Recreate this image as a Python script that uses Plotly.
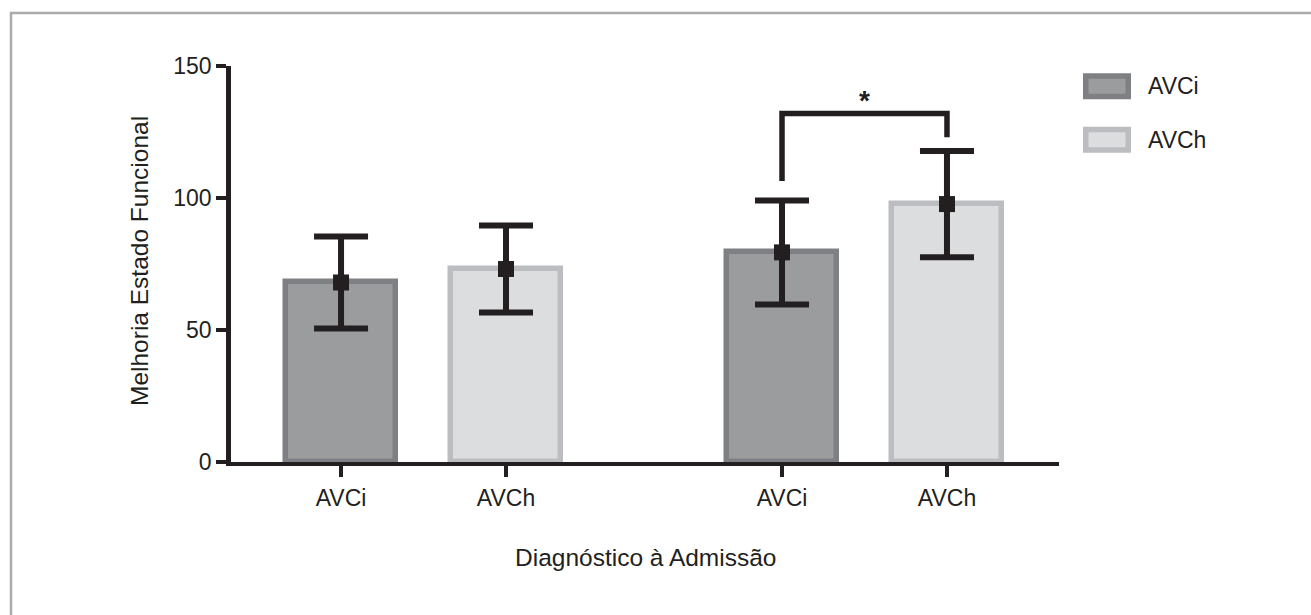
import plotly.graph_objects as go

# ---- data ----
series_names = ["AVCi", "AVCh"]
tick_labels = ["AVCi", "AVCh", "AVCi", "AVCh"]
x_positions = [1.0, 2.0, 3.673, 4.673]
means = [68.0, 73.1, 79.4, 97.7]
errors = [17.4, 16.5, 19.7, 20.1]
bracket_y = [106.4, 132.0, 132.0, 123.0]
star_text = "*"
star_y = 136.8
y_ticks = [0, 50, 100, 150]

# ---- style ----
INK = "#231f20"
FONT = "Liberation Sans, Arial, Helvetica, sans-serif"
fills = {"AVCi": "#9b9c9e", "AVCh": "#dcdddf"}
edges = {"AVCi": "#7f8083", "AVCh": "#bcbdc0"}

W, H = 1311, 615
L, R, T, B = 231, 1059, 66, 462


def px_x(px):
    return (px - L) / (R - L)


def px_y(py):
    return (B - py) / (B - T)


fig = go.Figure()

for k, name in enumerate(series_names):
    xs = [x_positions[i] for i in range(len(tick_labels)) if tick_labels[i] == name]
    ys = [means[i] for i in range(len(tick_labels)) if tick_labels[i] == name]
    fig.add_trace(go.Bar(
        x=xs, y=ys, width=0.667, name=name,
        marker=dict(color=fills[name], line=dict(color=edges[name], width=5.5)),
        showlegend=False, hoverinfo="skip",
    ))

fig.add_trace(go.Scatter(
    x=x_positions, y=means, mode="markers",
    marker=dict(symbol="square", size=16, color=INK),
    error_y=dict(type="data", array=errors, visible=True, color=INK,
                 thickness=6, width=27),
    showlegend=False, hoverinfo="skip",
))

# significance bracket
fig.add_trace(go.Scatter(
    x=[x_positions[2], x_positions[2], x_positions[3], x_positions[3]],
    y=bracket_y, mode="lines",
    line=dict(color=INK, width=5.5, shape="linear"),
    showlegend=False, hoverinfo="skip",
))
fig.add_annotation(
    x=(x_positions[2] + x_positions[3]) / 2, y=star_y, xref="x", yref="y",
    text="<b>" + star_text + "</b>", showarrow=False,
    font=dict(family=FONT, size=28, color=INK),
    xanchor="center", yanchor="middle",
)

shapes = []
annotations = []
# legend (custom, large swatches)
leg_rows = [(76.0, 96.6), (129.4, 150.0)]
for name, (y0, y1) in zip(series_names, leg_rows):
    shapes.append(dict(type="rect", xref="paper", yref="paper",
                       x0=px_x(1085.75), x1=px_x(1128.25), y0=px_y(y1), y1=px_y(y0),
                       fillcolor=fills[name], line=dict(color=edges[name], width=5.5)))
    annotations.append(dict(xref="paper", yref="paper", x=px_x(1146), y=px_y((y0 + y1) / 2),
                            text=name, showarrow=False, xanchor="left", yanchor="middle",
                            font=dict(family=FONT, size=23, color=INK)))

# figure frame (left and top visible)
shapes.append(dict(type="rect", xref="paper", yref="paper",
                   x0=px_x(11), x1=px_x(1340), y0=px_y(650), y1=px_y(13),
                   fillcolor="rgba(0,0,0,0)", line=dict(color="#ababab", width=2.5),
                   layer="below"))

# axis titles
annotations.append(dict(xref="paper", yref="paper", x=px_x(139), y=px_y(261),
                        text="Melhoria Estado Funcional", textangle=-90, showarrow=False,
                        xanchor="center", yanchor="middle",
                        font=dict(family=FONT, size=24.5, color=INK)))
annotations.append(dict(xref="paper", yref="paper", x=0.5, y=px_y(557),
                        text="Diagnóstico à Admissão", showarrow=False,
                        xanchor="center", yanchor="middle",
                        font=dict(family=FONT, size=24.5, color=INK)))

for a in annotations:
    fig.add_annotation(**a)

fig.update_layout(
    width=W, height=H,
    margin=dict(l=L, r=W - R, t=T, b=H - B, pad=0),
    paper_bgcolor="white", plot_bgcolor="white",
    shapes=shapes,
    font=dict(family=FONT, size=23, color=INK),
    bargap=0,
)

fig.update_xaxes(
    range=[0.333, 5.352], showgrid=False, zeroline=False,
    showline=True, linewidth=4, linecolor=INK,
    ticks="outside", ticklen=11, tickwidth=4, tickcolor=INK,
    tickvals=x_positions, ticktext=tick_labels,
    tickfont=dict(family=FONT, size=23, color=INK), ticklabelstandoff=1,
)
fig.update_yaxes(
    range=[0, 150], showgrid=False, zeroline=False,
    showline=True, linewidth=4.5, linecolor=INK,
    ticks="outside", ticklen=10, tickwidth=4, tickcolor=INK,
    tickvals=y_ticks, tickfont=dict(family=FONT, size=23, color=INK),
    ticklabelstandoff=0,
)

fig.write_html(
    "out.html",
    config={"displayModeBar": False},
    post_script="document.body.style.margin='0';document.body.style.padding='0';",
)
